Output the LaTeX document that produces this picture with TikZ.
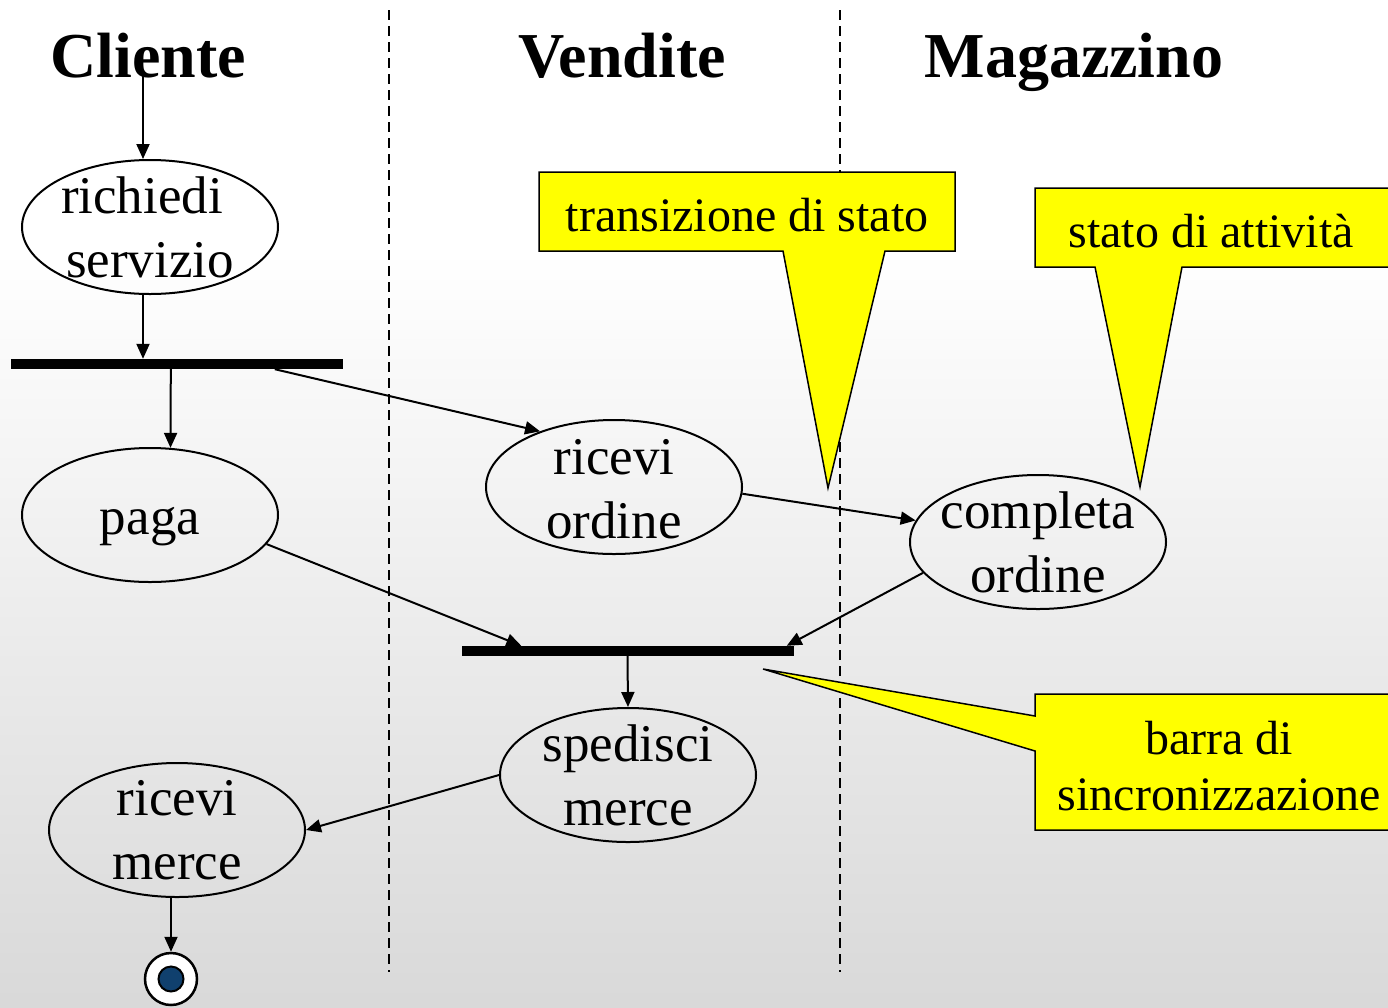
\documentclass[tikz,border=0pt]{standalone}
\usepackage{fontspec}
\setmainfont{Liberation Serif}
\usetikzlibrary{shapes.geometric,arrows.meta}
\definecolor{finblue}{RGB}{16,64,110}
\definecolor{noteyellow}{RGB}{255,255,0}
\begin{document}
\begin{tikzpicture}[x=1pt,y=-1pt,
  arr/.style={line width=2pt,-{Triangle[length=15pt,width=13pt]}},
  act/.style={ellipse,draw,line width=2pt,minimum width=256pt,minimum height=134pt,inner sep=0pt},
  acttxt/.style={font=\fontsize{53}{64}\selectfont,align=center,inner sep=0pt},
  head/.style={font=\fontsize{64}{70}\selectfont\bfseries,anchor=base,inner sep=0pt},
  syncbar/.style={fill=black,minimum width=332pt,minimum height=10pt,inner sep=0pt},
  lane/.style={line width=2pt,dash pattern=on 10pt off 6pt},
  callout/.style={fill=noteyellow,draw=black,line width=1.5pt,line join=miter},
  calltxt/.style={font=\fontsize{48}{56}\selectfont,align=center,inner sep=0pt}]
\useasboundingbox (0,0) rectangle (1388,1007);
\fill[white] (0,0) rectangle (1388,250);
\shade[top color=white,bottom color=black!15] (0,250) rectangle (1388,1007);

% swimlanes
\draw[lane] (389,10) -- (389,972);
\draw[lane] (840,10) -- (840,972);

% headings
\node[head] (hc) at (148,77) {Cliente};
\node[head] (hv) at (622,77) {Vendite};
\node[head] (hm) at (1074,77) {Magazzino};

% activities
\node[act] (rs) at (150,227) {};
\node[acttxt] (rst) at (rs) {richiedi\hspace*{16pt}\\servizio};
\node[act] (paga) at (150,515) {};
\node[acttxt,anchor=base] (pagat) at (150,534) {paga};
\node[act] (ro) at (614,487) {};
\node[acttxt] (rot) at ([yshift=-2pt]ro.center) {ricevi\\ordine};
\node[act] (co) at (1038,542) {};
\node[acttxt] (cot) at (co) {completa\\ordine};
\node[act] (sm) at (628,775) {};
\node[acttxt] (smt) at (sm) {spedisci\\merce};
\node[act] (rm) at (177,830) {};
\node[acttxt] (rmt) at (rm) {ricevi\\merce};

% synchronisation bars
\node[syncbar] (bar1) at (177,364) {};
\node[syncbar] (bar2) at (627.5,651) {};

% final state
\node[circle,draw,fill=white,line width=2.5pt,minimum size=52pt,inner sep=0pt] (fin) at (171,979) {};
\node[circle,draw,fill=finblue,line width=2pt,minimum size=25pt,inner sep=0pt] (finc) at (fin) {};

% connectors
\coordinate (start) at (143,74);
\draw[arr] (start) -- (start |- rs.north);
\draw[arr] (rs.south -| start) -- (start |- bar1.north);
\draw[arr] ([xshift=160pt]bar1.south west) -- (paga.73);
\draw[arr] ([xshift=264pt]bar1.south west) -- (ro.143);
\draw[arr] (ro.-3) -- (co.170);
\draw[arr] (co.195) -- ([xshift=-7pt]bar2.north east);
\draw[arr] (paga.-14) -- ([xshift=60pt]bar2.north west);
\draw[arr] (bar2.south) -- (sm.north);
\draw[arr] (sm.west) -- (rm.east);
\draw[arr] (rm.south -| fin.north) -- (fin.north);

% callouts
\begin{scope}
\clip (0,0) rectangle (1388,1007);
\draw[callout] (539,172) -- (955,172) -- (955,251) -- (885,251) -- (828,488) -- (783,251) -- (539,251) -- cycle;
\draw[callout] (1035,188) -- (1400,188) -- (1400,267) -- (1182,267) -- (1140,487) -- (1095,267) -- (1035,267) -- cycle;
\draw[callout] (1035,694) -- (1403,694) -- (1403,830) -- (1035,830) -- (1035,751) -- (763,669) -- (1035,716) -- cycle;
\end{scope}
\node[calltxt,anchor=base] (t1) at (747,231) {transizione di stato};
\node[calltxt,anchor=base] (t2) at (1211,247) {stato di attività};
\node[calltxt] (t3) at (1219,766) {barra di\\sincronizzazione};
\end{tikzpicture}
\end{document}
